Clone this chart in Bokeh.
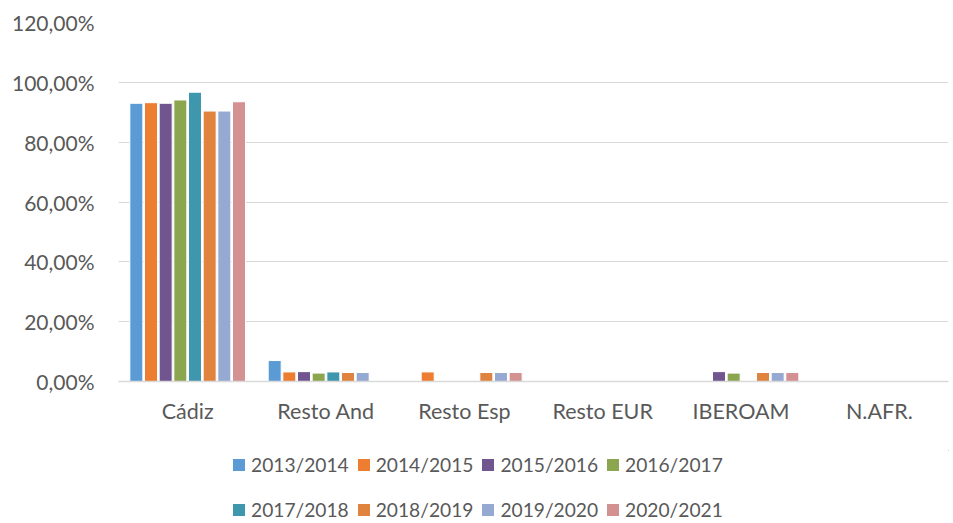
from bokeh.plotting import figure
from bokeh.models import ColumnDataSource, Legend, LegendItem, FixedTicker, Range1d
from bokeh.layouts import column
from bokeh.transform import dodge
from bokeh.embed import file_html
from bokeh.resources import INLINE

categories = ["Cádiz", "Resto And", "Resto Esp", "Resto EUR", "IBEROAM", "N.AFR."]
series_names = ["2013/2014", "2014/2015", "2015/2016", "2016/2017",
                "2017/2018", "2018/2019", "2019/2020", "2020/2021"]
s2013 = [93.0, 7.0, 0.0, 0.0, 0.0, 0.0]
s2014 = [93.2, 3.2, 3.2, 0.0, 0.0, 0.0]
s2015 = [93.0, 3.3, 0.0, 0.0, 3.3, 0.0]
s2016 = [94.1, 2.8, 0.0, 0.0, 2.8, 0.0]
s2017 = [96.7, 3.2, 0.0, 0.0, 0.0, 0.0]
s2018 = [90.4, 3.0, 3.0, 0.0, 3.0, 0.0]
s2019 = [90.4, 3.0, 3.0, 0.0, 3.0, 0.0]
s2020 = [93.5, 0.0, 3.0, 0.0, 3.0, 0.0]
all_series = [s2013, s2014, s2015, s2016, s2017, s2018, s2019, s2020]
colors = ["#5B9BD5", "#ED7D31", "#70558F", "#8CA64F",
          "#3F97AE", "#DF833F", "#95A9D2", "#D39192"]
y_ticks = [0, 20, 40, 60, 80, 100, 120]
y_tick_labels = ["0,00%", "20,00%", "40,00%", "60,00%", "80,00%", "100,00%", "120,00%"]

FONT = "Lato"
TXT = "#595959"

p = figure(x_range=categories, y_range=(0, 120), width=953, height=450,
           output_backend="svg", toolbar_location=None,
           min_border_left=118, min_border_right=5, min_border_top=22,
           min_border_bottom=69)

pitch = 0.106
for i, (name, vals, col) in enumerate(zip(series_names, all_series, colors)):
    xs = [c for c, v in zip(categories, vals) if v > 0]
    ys = [v for v in vals if v > 0]
    src = ColumnDataSource(dict(x=xs, top=ys))
    p.vbar(x=dodge("x", (i - 3.5) * pitch, range=p.x_range), top="top",
           width=0.094, source=src, fill_color=col, line_color="white",
           line_width=1)

p.outline_line_color = None
p.xgrid.grid_line_color = None
p.ygrid.grid_line_color = "#D9D9D9"
p.ygrid.grid_line_width = 1

p.yaxis.ticker = FixedTicker(ticks=y_ticks)
p.yaxis.major_label_overrides = {t: l for t, l in zip(y_ticks, y_tick_labels)}
p.yaxis.axis_line_color = None
p.yaxis.major_tick_line_color = None
p.yaxis.minor_tick_line_color = None
p.yaxis.major_tick_out = 0
p.yaxis.major_label_standoff = 24
p.yaxis.major_label_text_font = FONT
p.yaxis.major_label_text_font_size = "21px"
p.yaxis.major_label_text_color = TXT

p.xaxis.axis_line_color = "#D9D9D9"
p.xaxis.axis_line_width = 1.5
p.xaxis.major_tick_line_color = None
p.xaxis.minor_tick_line_color = None
p.xaxis.major_tick_out = 0
p.xaxis.major_label_standoff = 16
p.xaxis.major_label_text_font = FONT
p.xaxis.major_label_text_font_size = "21.5px"
p.xaxis.major_label_text_color = TXT

# legend strip
lg = figure(width=953, height=73, output_backend="svg", toolbar_location=None,
            x_range=Range1d(0, 1), y_range=Range1d(0, 1),
            x_axis_location=None, y_axis_location=None,
            min_border_left=118, min_border_right=5, min_border_top=0,
            min_border_bottom=0)
lg.outline_line_color = None
lg.grid.visible = False

items = []
for name, col in zip(series_names, colors):
    dummy = ColumnDataSource(dict(x=[5.0], top=[5.0]))
    r = lg.vbar(x="x", top="top", bottom=4.0, width=0.1, source=dummy,
                fill_color=col, line_color=None)
    items.append(LegendItem(label=name, renderers=[r]))

common = dict(orientation="horizontal", label_text_font=FONT,
              label_text_font_size="19.2px", label_text_color=TXT,
              glyph_width=15, glyph_height=15, label_standoff=5,
              spacing=7, label_height=22, padding=0, margin=0,
              border_line_color=None, background_fill_alpha=0)
leg1 = Legend(items=items[:4], location=(113, 47), **common)
leg2 = Legend(items=items[4:], location=(113, 2), **common)
lg.add_layout(leg1, "center")
lg.add_layout(leg2, "center")

layout = column(p, lg, spacing=0)
open("out.html", "w").write(file_html(layout, INLINE))
